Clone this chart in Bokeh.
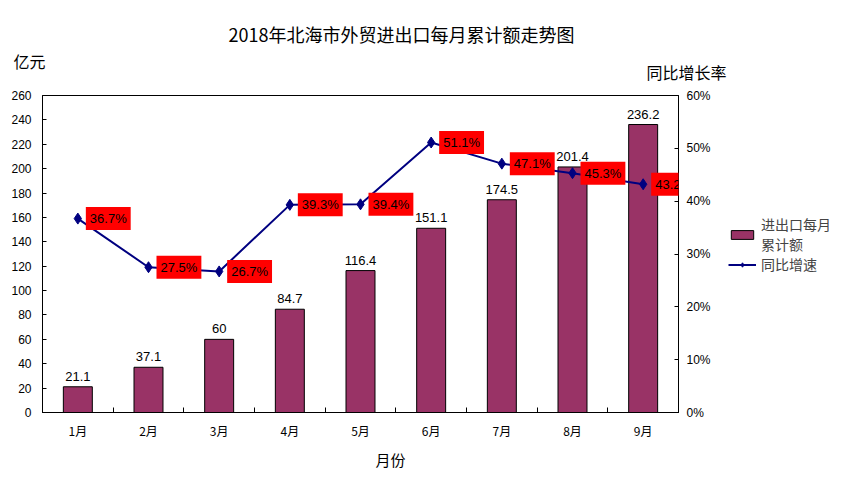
from bokeh.plotting import figure
from bokeh.layouts import row
from bokeh.models import (Range1d, LinearAxis, FixedTicker, NumeralTickFormatter,
                          ColumnDataSource, LabelSet, Label, Legend, LegendItem,
                          CustomJSTickFormatter, Title)
from bokeh.core.properties import value
from bokeh.embed import file_html
from bokeh.resources import INLINE

months = ["1月", "2月", "3月", "4月", "5月", "6月", "7月", "8月", "9月"]
totals = [21.1, 37.1, 60, 84.7, 116.4, 151.1, 174.5, 201.4, 236.2]
growth = [36.7, 27.5, 26.7, 39.3, 39.4, 51.1, 47.1, 45.3, 43.2]
left_ticks = list(range(0, 261, 20))
right_ticks = [0, 0.1, 0.2, 0.3, 0.4, 0.5, 0.6]

CJK = "Noto Sans CJK SC"
NUM = "Liberation Sans"
BAR_COLOR = "#993366"
LINE_COLOR = "#000080"

xs = [i + 0.5 for i in range(len(months))]
src = ColumnDataSource(dict(
    x=xs,
    total=totals,
    growth=[g / 100 for g in growth],
    total_label=[f"{t:g}" for t in totals],
))

p = figure(width=728, height=475, output_backend="svg", toolbar_location=None,
           x_range=Range1d(0, 9), y_range=Range1d(0, 260),
           min_border_left=42, min_border_right=50, min_border_top=95,
           min_border_bottom=63)
p.extra_y_ranges = {"pct": Range1d(0, 0.6)}
p.grid.visible = False
p.outline_line_color = "black"
p.outline_line_width = 1
p.outline_line_alpha = 1
p.background_fill_color = "white"
p.border_fill_color = "white"

# left axis
ya = p.yaxis[0]
ya.ticker = FixedTicker(ticks=left_ticks)
ya.major_tick_in = 4
ya.major_tick_out = 0
ya.minor_tick_line_color = None
ya.axis_line_color = "black"
ya.major_label_text_font = NUM
ya.major_label_text_font_size = "12px"
ya.major_label_text_color = "black"
ya.major_label_standoff = 11

# x axis
xa = p.xaxis[0]
xa.ticker = FixedTicker(ticks=xs, minor_ticks=list(range(10)))
xa.formatter = CustomJSTickFormatter(args=dict(m=months), code="return m[Math.floor(tick)]")
xa.major_tick_line_color = None
xa.minor_tick_in = 5
xa.minor_tick_out = 0
xa.minor_tick_line_color = "black"
xa.axis_line_color = "black"
xa.major_label_text_font = CJK
xa.major_label_text_font_size = "12px"
xa.major_label_text_color = "black"
xa.major_label_standoff = 3

# right axis
ra = LinearAxis(y_range_name="pct", ticker=FixedTicker(ticks=right_ticks),
                formatter=NumeralTickFormatter(format="0%"))
ra.major_tick_in = 4
ra.major_tick_out = 0
ra.minor_tick_line_color = None
ra.axis_line_color = "black"
ra.major_label_text_font = NUM
ra.major_label_text_font_size = "12px"
ra.major_label_text_color = "black"
ra.major_label_standoff = 8
p.add_layout(ra, "right")

p.vbar(x="x", top="total", width=0.41, fill_color=BAR_COLOR,
       line_color="black", line_width=1, source=src)
p.line("x", "growth", y_range_name="pct", line_color=LINE_COLOR,
       line_width=2, source=src)
p.scatter("x", "growth", y_range_name="pct", marker="diamond", size=11,
          fill_color=LINE_COLOR, line_color=LINE_COLOR, source=src)

p.add_layout(LabelSet(x="x", y="total", text="total_label", source=src,
                      text_align="center", text_baseline="bottom", y_offset=6,
                      text_font=value(NUM), text_font_size=value("13px"),
                      text_color="black"))

for xv, g in zip(xs, growth):
    p.add_layout(Label(x=xv, y=g / 100, y_range_name="pct", text=f"{g}%",
                       x_offset=8, text_align="left", text_baseline="middle",
                       text_font=NUM, text_font_size="13px", text_color="black",
                       background_fill_color="red", padding=4))


def make_title(text, size, offset, standoff):
    t = Title(text=text, align="left", offset=offset, text_font=CJK,
              text_font_size=size, text_font_style="normal", text_color="black")
    try:
        t.standoff = standoff
    except Exception:
        t.standoff = 0
    return t

# stacked outward from the frame
p.add_layout(make_title("同比增长率", "16px", 604, 24), "above")
p.add_layout(make_title("亿元", "16px", -29, -54), "above")
p.add_layout(make_title("2018年北海市外贸进出口每月累计额走势图", "18px", 186, -3), "above")
p.add_layout(make_title("月份", "15px", 333, 11), "below")

# legend panel to the right of the chart
lf = figure(width=112, height=475, output_backend="svg", toolbar_location=None,
            x_range=Range1d(0, 1), y_range=Range1d(0, 1),
            x_axis_location=None, y_axis_location=None,
            min_border_left=0, min_border_right=0, min_border_top=0,
            min_border_bottom=0)
lf.grid.visible = False
lf.outline_line_color = None
lf.background_fill_color = "white"
lf.border_fill_color = "white"
# legend-only renderers, kept outside the visible range
hidden = ColumnDataSource(dict(x=[5], y=[5]))
lb = lf.vbar(x="x", top="y", width=0.5, fill_color=BAR_COLOR, line_color="black",
             line_width=1, source=hidden)
ll = lf.line("x", "y", line_color=LINE_COLOR, line_width=2, source=hidden)
lp = lf.scatter("x", "y", marker="diamond", size=11, fill_color=LINE_COLOR,
                line_color=LINE_COLOR, source=hidden)
legend = Legend(items=[LegendItem(label="进出口每月\n累计额", renderers=[lb]),
                       LegendItem(label="同比增速", renderers=[ll, lp])],
                location=(0, 138), background_fill_alpha=0, border_line_color=None,
                padding=0, margin=0, glyph_width=28, glyph_height=11,
                label_text_font=CJK, label_text_font_size="14px",
                label_text_line_height=1.05,
                label_standoff=5)
try:
    legend.spacing = -3
except Exception:
    legend.spacing = 0
    legend.location = (0, 135)
lf.add_layout(legend)

layout = row(p, lf, spacing=0)
open("out.html", "w").write(file_html(layout, INLINE))
